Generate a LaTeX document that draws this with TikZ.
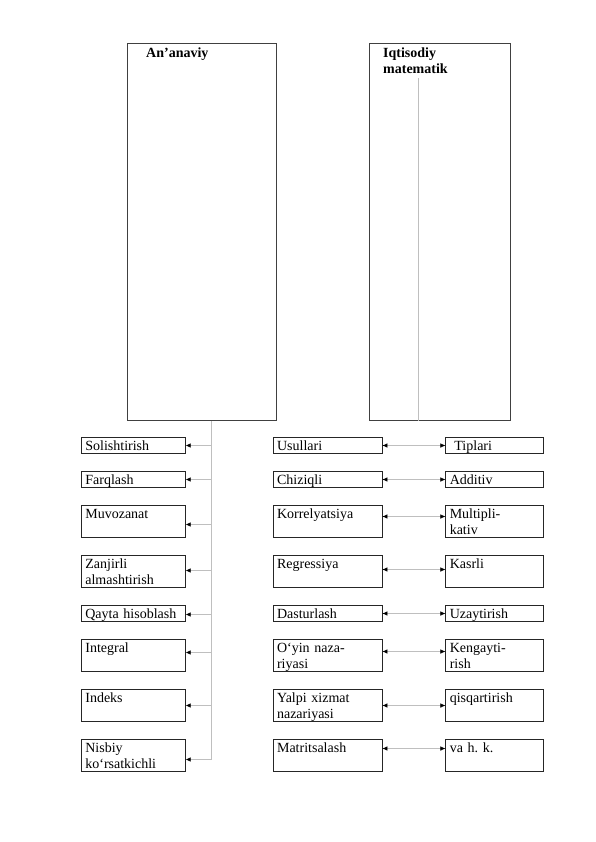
\documentclass[tikz,border=0pt]{standalone}
\usepackage{fontspec}
\setmainfont{Liberation Serif}
\usetikzlibrary{positioning,arrows.meta}
\frenchspacing

\begin{document}
\begin{tikzpicture}[x=1pt,y=-1pt,node distance=17pt,
    font=\fontsize{14}{16}\selectfont,
    big box/.style={draw=black!75,line width=0.8pt,anchor=north west},
    head/.style={anchor=north west,inner sep=0pt,align=left,text width=110pt,
                 text height=10pt,font=\fontsize{14}{16}\selectfont\bfseries},
    item/.style={draw=black!85,line width=0.7pt,anchor=north west,inner xsep=4pt,
                 inner ysep=2pt,align=left,text height=11.5pt,text depth=0.8pt},
    tall/.style={text depth=16.8pt},
    lcol/.style={item,text width=96pt},
    mcol/.style={item,text width=101pt},
    rcol/.style={item,text width=90pt},
    conn/.style={draw=black!25,line width=0.5pt},
    tip/.style={conn,-{Latex[length=5pt,width=4.5pt,black]}},
    dbl/.style={conn,{Latex[length=5pt,width=4.5pt,black]}-{Latex[length=5pt,width=4.5pt,black]}}]

  \useasboundingbox (0,0) rectangle (596,842);

  % the two big boxes
  \node[big box,minimum width=149pt,minimum height=377pt] (ana) at (127,43) {};
  \node[big box,minimum width=141pt,minimum height=377pt] (iqt) at (369,43) {};
  \node[head] (ana title) at ([xshift=19pt,yshift=-4pt]ana.north west) {An’anaviy};
  \node[head] (iqt title) at ([xshift=14pt,yshift=-4pt]iqt.north west) {Iqtisodiy\\matematik};

  % left column
  \node[lcol] (l1) at (81,437) {Solishtirish};
  \node[lcol,below=of l1] (l2) {Farqlash};
  \node[lcol,tall,below=of l2] (l3) {Muvozanat};
  \node[lcol,tall,below=of l3] (l4) {Zanjirli\\almashtirish};
  \node[lcol,below=of l4] (l5) {Qayta hisoblash};
  \node[lcol,tall,below=of l5] (l6) {Integral};
  \node[lcol,tall,below=of l6] (l7) {Indeks};
  \node[lcol,tall,below=of l7] (l8) {Nisbiy\\ko‘rsatkichli};

  % middle column
  \node[mcol,right=87pt of l1] (m1) {Usullari};
  \node[mcol,right=87pt of l2] (m2) {Chiziqli};
  \node[mcol,tall,right=87pt of l3] (m3) {Korrelyatsiya};
  \node[mcol,tall,right=87pt of l4] (m4) {Regressiya};
  \node[mcol,right=87pt of l5] (m5) {Dasturlash};
  \node[mcol,tall,right=87pt of l6] (m6) {O‘yin naza-\\riyasi};
  \node[mcol,tall,right=87pt of l7] (m7) {Yalpi xizmat\\nazariyasi};
  \node[mcol,tall,right=87pt of l8] (m8) {Matritsalash};

  % right column
  \node[rcol,right=63pt of m1] (r1) {\ Tiplari};
  \node[rcol,right=63pt of m2] (r2) {Additiv};
  \node[rcol,tall,right=63pt of m3] (r3) {Multipli-\\kativ};
  \node[rcol,tall,right=63pt of m4] (r4) {Kasrli};
  \node[rcol,right=63pt of m5] (r5) {Uzaytirish};
  \node[rcol,tall,right=63pt of m6] (r6) {Kengayti-\\rish};
  \node[rcol,tall,right=63pt of m7] (r7) {qisqartirish};
  \node[rcol,tall,right=63pt of m8] (r8) {va h. k.};

  % connectors
  \coordinate (trunk) at ([xshift=84pt]ana.south west);
  \draw[conn] (trunk) -- ([yshift=-4pt]trunk |- l8.east);
  \foreach \i/\s in {1/0,2/0,3/-3,4/1,5/-1,6/3,7/0,8/-4}
    \draw[tip] ([yshift=\s pt]trunk |- l\i.east) -- ([yshift=\s pt]l\i.east);
  \foreach \i/\s in {1/0,2/0,3/5,4/2,5/0,6/4,7/0,8/7}
    \draw[dbl] ([yshift=\s pt]m\i.east) -- ([yshift=\s pt]r\i.west);
  \draw[conn] ([xshift=49pt,yshift=-35pt]iqt.north west) -- ([xshift=49pt]iqt.south west);
\end{tikzpicture}
\end{document}
